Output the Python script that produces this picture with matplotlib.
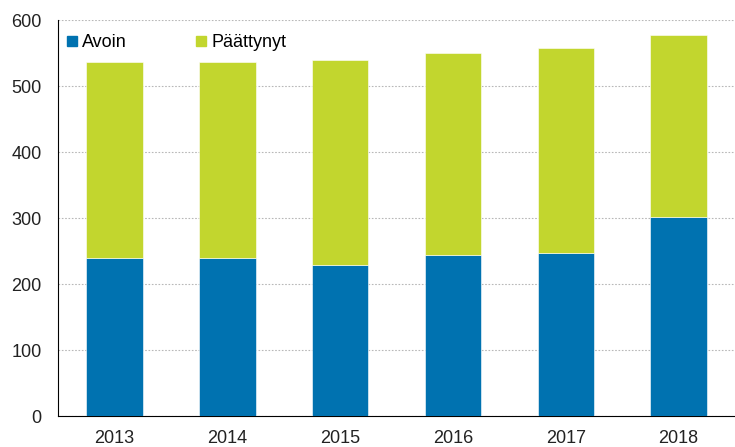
import matplotlib.pyplot as plt
import numpy as np
from matplotlib.lines import Line2D

plt.rcParams['font.family'] = ['Liberation Sans', 'DejaVu Sans']

years = ['2013', '2014', '2015', '2016', '2017', '2018']
avoin = [239, 239, 229, 244, 247, 302]
paattynyt = [297, 297, 310, 306, 311, 275]

c_blue = '#0072B0'
c_green = '#C2D62E'

fig = plt.figure(figsize=(7.35, 4.47), dpi=100)
ax = fig.add_axes([0.079, 0.069, 0.921, 0.886])

x = np.arange(len(years))
ax.bar(x, avoin, 0.5, color=c_blue, edgecolor='white', linewidth=0.4, zorder=3)
ax.bar(x, paattynyt, 0.5, bottom=avoin, color=c_green,
       edgecolor='white', linewidth=0.4, zorder=3)

ax.set_xlim(-0.5, 5.5)
ax.set_ylim(0, 600)
ax.set_yticks(range(0, 601, 100))
ax.set_xticks(x)
ax.set_xticklabels(years)
ax.tick_params(axis='both', length=0, labelsize=13, colors='#222222')
ax.tick_params(axis='y', pad=12)
ax.tick_params(axis='x', pad=10)
ax.grid(axis='y', color='#b8b8b8', ls=(0, (1.5, 1.5)), lw=0.8, zorder=0)

for s in ['top', 'right']:
    ax.spines[s].set_visible(False)
ax.spines['left'].set_color('black')
ax.spines['bottom'].set_color('black')

handles = [Line2D([], [], marker='s', ls='', color=c_blue, markersize=6.5),
           Line2D([], [], marker='s', ls='', color=c_green, markersize=6.5)]
ax.legend(handles, ['Avoin', 'Päättynyt'], loc='upper left', ncol=2,
          frameon=False, fontsize=13, handletextpad=0.2, columnspacing=3.8,
          handlelength=0.7, borderaxespad=0, bbox_to_anchor=(0.0, 0.982))

plt.savefig('out.png', dpi=100)
plt.close()
